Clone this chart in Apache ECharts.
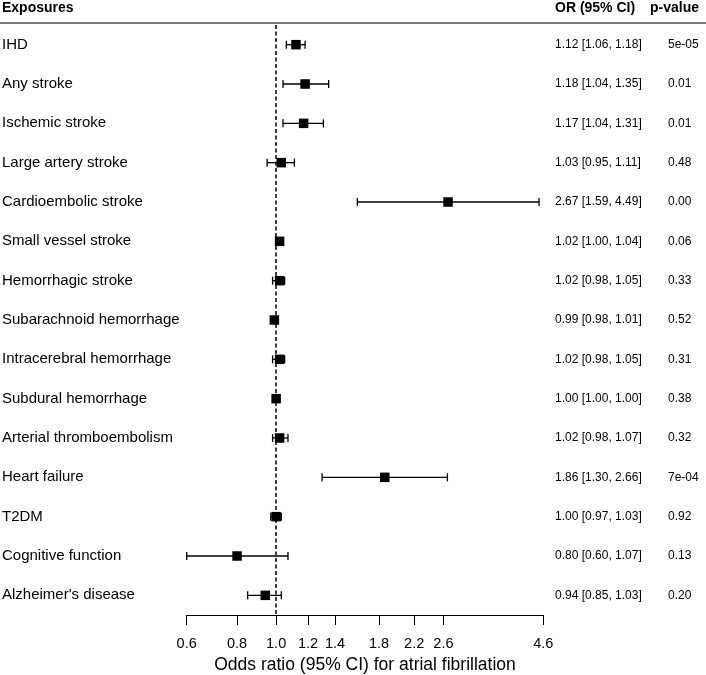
<!DOCTYPE html>
<html>
<head>
<meta charset="utf-8">
<script src="https://cdn.jsdelivr.net/npm/echarts@6/dist/echarts.min.js"></script>
<style>html,body{margin:0;padding:0;background:#fff}#c{width:706px;height:675px}</style>
</head>
<body>
<div id="c"></div>
<script>
const categories = ['IHD','Any stroke','Ischemic stroke','Large artery stroke','Cardioembolic stroke','Small vessel stroke','Hemorrhagic stroke','Subarachnoid hemorrhage','Intracerebral hemorrhage','Subdural hemorrhage','Arterial thromboembolism','Heart failure','T2DM','Cognitive function',"Alzheimer's disease"];
const orValues = [1.12,1.18,1.17,1.03,2.67,1.02,1.02,0.99,1.02,1.00,1.02,1.86,1.00,0.80,0.94];
const ciLower  = [1.06,1.04,1.04,0.95,1.59,1.00,0.98,0.98,0.98,1.00,0.98,1.30,0.97,0.60,0.85];
const ciUpper  = [1.18,1.35,1.31,1.11,4.49,1.04,1.05,1.01,1.05,1.00,1.07,2.66,1.03,1.07,1.03];
const pValues  = ['5e-05','0.01','0.01','0.48','0.00','0.06','0.33','0.52','0.31','0.38','0.32','7e-04','0.92','0.13','0.20'];
const tickValues = [0.6,0.8,1.0,1.2,1.4,1.8,2.2,2.6,4.6];
const tickLabels = ['0.6','0.8','1.0','1.2','1.4','1.8','2.2','2.6','4.6'];
const headers = ['Exposures','OR (95% CI)','p-value'];
const xTitle = 'Odds ratio (95% CI) for atrial fibrillation';

const FONT = '"Liberation Sans", Arial, Helvetica, sans-serif';
const orText = orValues.map((v,i)=>`${v.toFixed(2)} [${ciLower[i].toFixed(2)}, ${ciUpper[i].toFixed(2)}]`);
const logTicks = tickValues.map(Math.log);

const chart = echarts.init(document.getElementById('c'));
chart.setOption({
  animation: false,
  backgroundColor: '#fff',
  textStyle: {fontFamily: FONT},
  grid: {left: 186.7, right: 162.7, top: 25, bottom: 60, containLabel: false, outerBoundsMode: 'none'},
  xAxis: {
    type: 'value',
    min: Math.log(0.6), max: Math.log(4.6),
    splitLine: {show: false},
    axisLine: {show: true, lineStyle: {color: '#000', width: 1}},
    axisTick: {show: true, inside: false, length: 10, customValues: logTicks, lineStyle: {color: '#000', width: 1}},
    axisLabel: {
      customValues: logTicks, margin: 21, fontSize: 14.5, color: '#000', fontFamily: FONT,
      formatter: (v) => {
        let best = 0;
        logTicks.forEach((t,i)=>{ if (Math.abs(t-v) < Math.abs(logTicks[best]-v)) best = i; });
        return tickLabels[best];
      }
    },
    name: xTitle, nameLocation: 'middle', nameGap: 39.5,
    nameTextStyle: {fontSize: 17.5, color: '#000', fontFamily: FONT}
  },
  yAxis: [
    {type: 'category', data: categories, inverse: true,
     axisLine: {show: false}, axisTick: {show: false}, splitLine: {show: false},
     axisLabel: {align: 'left', margin: 184.7, fontSize: 15, color: '#000', fontFamily: FONT}},
    {type: 'category', data: orText, inverse: true, position: 'right',
     axisLine: {show: false}, axisTick: {show: false}, splitLine: {show: false},
     axisLabel: {align: 'left', margin: 11.7, fontSize: 12, color: '#000', fontFamily: FONT}},
    {type: 'category', data: pValues, inverse: true, position: 'right', offset: 0,
     axisLine: {show: false}, axisTick: {show: false}, splitLine: {show: false},
     axisLabel: {align: 'left', margin: 124.7, fontSize: 12, color: '#000', fontFamily: FONT}}
  ],
  graphic: [
    {type: 'line', shape: {x1: 0, y1: 23, x2: 706, y2: 23}, style: {stroke: '#7a7a7a', lineWidth: 2}, silent: true},
    {type: 'text', left: 2, top: 1.5, style: {text: headers[0], font: 'bold 14px ' + FONT, fill: '#000'}},
    {type: 'text', left: 555, top: 1.5, style: {text: headers[1], font: 'bold 14px ' + FONT, fill: '#000'}},
    {type: 'text', left: 650, top: 1.5, style: {text: headers[2], font: 'bold 14px ' + FONT, fill: '#000'}}
  ],
  series: [
    {
      type: 'custom',
      yAxisIndex: 0,
      data: categories.map((c,i)=>[Math.log(ciLower[i]), Math.log(ciUpper[i]), i]),
      encode: {x: [0,1], y: 2},
      renderItem: (params, api) => {
        const p1 = api.coord([api.value(0), api.value(2)]);
        const p2 = api.coord([api.value(1), api.value(2)]);
        const h = 4;
        const st = {stroke: '#000', lineWidth: 1.3};
        return {type: 'group', children: [
          {type: 'line', shape: {x1: p1[0], y1: p1[1], x2: p2[0], y2: p2[1]}, style: st},
          {type: 'line', shape: {x1: p1[0], y1: p1[1]-h, x2: p1[0], y2: p1[1]+h}, style: st},
          {type: 'line', shape: {x1: p2[0], y1: p2[1]-h, x2: p2[0], y2: p2[1]+h}, style: st}
        ]};
      },
      z: 2
    },
    {
      type: 'scatter',
      yAxisIndex: 0,
      symbol: 'rect', symbolSize: 9.5,
      itemStyle: {color: '#000', opacity: 1},
      data: orValues.map((v,i)=>[Math.log(v), i]),
      z: 3,
      markLine: {
        silent: true, symbol: 'none', label: {show: false},
        lineStyle: {color: '#000', width: 1.5, type: [4,2.5]},
        data: [{xAxis: 0}]
      }
    }
  ]
});
</script>
</body>
</html>
